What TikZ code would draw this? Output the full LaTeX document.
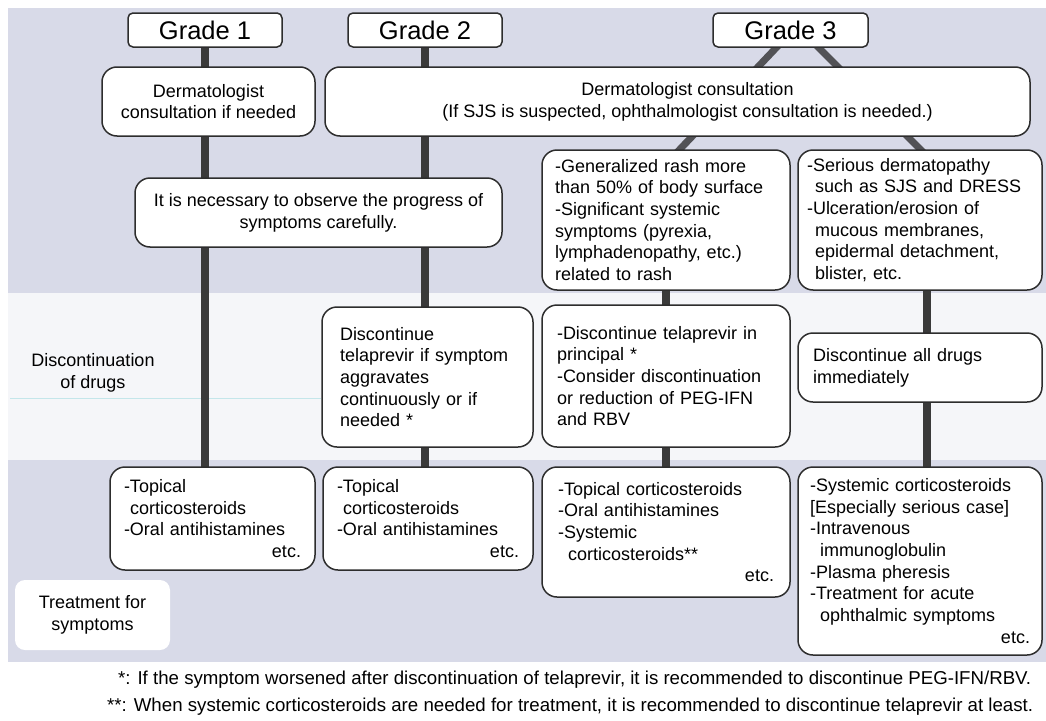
\documentclass[tikz,border=0pt]{standalone}
\usepackage{graphicx}
\usepackage{fontspec}
\setmainfont{Liberation Sans}
\definecolor{bandc}{RGB}{216,218,232}
\definecolor{midc}{RGB}{245,246,249}
\definecolor{linec}{RGB}{58,58,58}
\definecolor{diagc}{RGB}{82,82,86}
\definecolor{bordc}{RGB}{45,45,45}
\definecolor{cyanc}{RGB}{196,230,234}
\newcommand\fs{\fontsize{18}{21.7}\selectfont}
\newcommand\gs{\fontsize{25.5}{28}\selectfont}
\newcommand\footf{\fontsize{16}{18}\selectfont}
\newcommand\etcr{\hspace*{0pt plus 1fill}etc.}
\pgfdeclarelayer{bands}
\pgfdeclarelayer{links}
\pgfsetlayers{bands,links,main}
\begin{document}
\begin{tikzpicture}[x=1pt,y=-1pt,
 box/.style={draw=bordc,line width=1.5pt,fill=white,rounded corners=15pt,font=\fs,inner ysep=0pt},
 lbox/.style={box,align=left},
 cbox/.style={box,align=center,inner xsep=0pt},
 gbox/.style={draw=bordc,line width=1.5pt,fill=white,rounded corners=5pt,font=\gs,minimum width=154pt,minimum height=34pt,inner sep=0pt},
 conn/.style={draw=linec,line width=8pt},
 diag/.style={draw=diagc,line width=7pt},
 lab/.style={font=\fs,align=center,inner sep=0pt},
 fnote/.style={anchor=west,inner sep=0pt,font=\footf}]
\useasboundingbox (0,0) rectangle (1046,720);

% grades
\node[gbox] (g1) at (205,30) {Grade 1};
\node[gbox] (g2) at (425,30) {Grade 2};
\node[gbox,minimum width=155pt] (g3) at (790.5,30) {Grade 3};

% consultation
\node[cbox,minimum width=213pt,minimum height=69pt] (c1) at (208.5,101.5) {Dermatologist\\consultation if needed};
\node[cbox,minimum width=705pt,minimum height=69pt] (c2) at (677.5,101.5) {\hspace*{20pt}Dermatologist consultation\\\hspace*{20pt}(If SJS is suspected, ophthalmologist consultation is needed.)};

\node[cbox,minimum width=367pt,minimum height=69pt] (obs) at (318.5,212.5) {It is necessary to observe the progress of\\symptoms carefully.};

\node[lbox,minimum width=248pt,minimum height=140pt,text width=222pt,inner xsep=13pt] (sa) at (666,220) {-Generalized rash more\\than 50\% of body surface\\-Significant systemic\\symptoms (pyrexia,\\lymphadenopathy, etc.)\\related to rash};
\node[lbox,minimum width=244pt,minimum height=140pt,text width=226pt,inner xsep=9pt] (sb) at (920,220) {-Serious dermatopathy\\\hspace*{8pt}such as SJS and DRESS\\-Ulceration/erosion of\\\hspace*{8pt}mucous membranes,\\\hspace*{8pt}epidermal detachment,\\\hspace*{8pt}blister, etc.};

% discontinuation
\node[lbox,minimum width=211pt,minimum height=140pt,text width=175pt,inner xsep=18pt] (d2) at (427.5,377) {Discontinue\\telaprevir if symptom\\aggravates\\continuously or if\\needed *};
\node[lbox,minimum width=248pt,minimum height=142pt,text width=218pt,inner xsep=15pt] (da) at (666,376) {-Discontinue telaprevir in\\principal *\\-Consider discontinuation\\or reduction of PEG-IFN\\and RBV};
\node[lbox,minimum width=244pt,minimum height=69pt,text width=214pt,inner xsep=15pt] (db) at (920,367.5) {Discontinue all drugs\\immediately};

% treatment
\node[lbox,minimum width=205pt,minimum height=103pt,text width=177pt,inner xsep=14pt] (t1) at (212.5,518.5) {-Topical\\\hspace*{6pt}corticosteroids\\-Oral antihistamines\\\etcr};
\node[lbox,minimum width=210pt,minimum height=103pt,text width=182pt,inner xsep=14pt] (t2) at (428,518.5) {-Topical\\\hspace*{6pt}corticosteroids\\-Oral antihistamines\\\etcr};
\node[lbox,minimum width=248pt,minimum height=130pt,text width=216pt,inner xsep=16pt] (t3) at (666,532) {-Topical corticosteroids\\-Oral antihistamines\\-Systemic\\\hspace*{10pt}corticosteroids**\\\etcr};
\node[lbox,minimum width=244pt,minimum height=188pt,text width=220pt,inner xsep=12pt] (t4) at (920,561) {-Systemic corticosteroids\\{[}Especially serious case{]}\\-Intravenous\\\hspace*{10pt}immunoglobulin\\-Plasma pheresis\\-Treatment for acute\\\hspace*{10pt}ophthalmic symptoms\\\etcr};

% row labels
\node[lab] (dl) at (93,373) {Discontinuation\\of drugs};
\node[fill=white,rounded corners=10pt,minimum width=155pt,minimum height=70pt,font=\fs,align=center,inner sep=0pt] (tr) at (92.5,615) {Treatment for\\symptoms};

% footnotes
\node[fnote] (f1) at (118,680) {\resizebox{913pt}{13.5pt}{*: If the symptom worsened after discontinuation of telaprevir, it is recommended to discontinue PEG-IFN/RBV.}};
\node[fnote] (f2) at (107,707) {\resizebox{926pt}{13.5pt}{**: When systemic corticosteroids are needed for treatment, it is recommended to discontinue telaprevir at least.}};

\coordinate (d3l) at (665,165);
\coordinate (d3r) at (936,165);

\begin{pgfonlayer}{links}
\draw[conn] (g1.center) -- (g1.center |- t1.center);
\draw[conn] (g2.center) -- (g2.center |- t2.center);
\draw[diag] ([xshift=2.5pt]g3.center) -- (d3l);
\draw[diag] ([xshift=10.5pt]g3.center) -- (d3r);
\draw[conn] (sa.center) -- (sa.center |- t3.center);
\draw[conn] ([xshift=7pt]sb.center) -- ([xshift=7pt]sb.center |- t4.center);
\end{pgfonlayer}

\begin{pgfonlayer}{bands}
\fill[white] (0,0) rectangle (1046,720);
\fill[bandc] (8,8) rectangle (1046,293);
\fill[midc] (8,293) rectangle (1046,460);
\fill[bandc] (8,460) rectangle (1046,662);
\draw[cyanc,line width=1pt] (10,398) -- (d2.west |- 0,398);
\end{pgfonlayer}
\end{tikzpicture}
\end{document}
